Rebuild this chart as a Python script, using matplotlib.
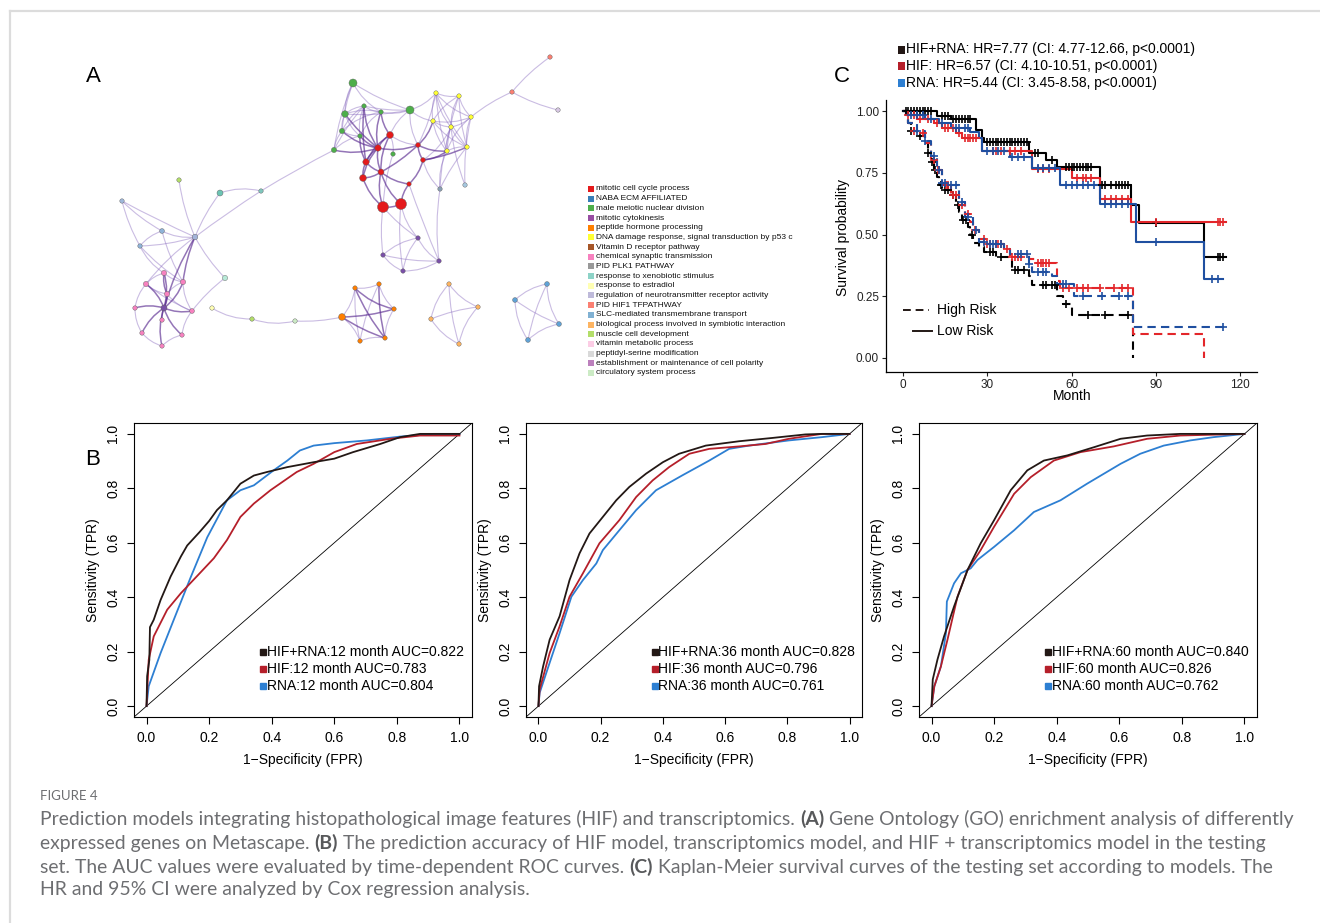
import numpy as np
import matplotlib
matplotlib.use('Agg')
import matplotlib.pyplot as plt
from matplotlib.lines import Line2D
from matplotlib.patches import FancyArrowPatch, Rectangle

# ---------------- DATA ----------------
# Panel A: network layout (layout units) -------------------------------
node_x = [550, 512, 558,
          353, 364, 381, 345, 342, 360, 334, 410, 393,
          390, 378, 366, 363, 381, 383, 401, 418, 423, 409,
          436, 459, 433, 451, 471, 467, 447, 440, 465,
          418, 383, 403, 439,
          179, 220, 261, 122, 162, 140, 195, 225,
          164, 146, 183, 167, 135, 164, 192, 162, 142, 182, 162,
          212, 252, 295, 342,
          355, 379, 394, 385, 360,
          449, 478, 431, 459,
          547, 515, 559, 528]
node_y = [57, 92, 110,
          83, 106, 112, 114, 131, 136, 150, 110, 154,
          135, 148, 162, 178, 172, 207, 204, 145, 160, 184,
          93, 96, 121, 127, 117, 147, 151, 189, 185,
          238, 255, 271, 261,
          180, 193, 191, 201, 231, 246, 237, 278,
          273, 284, 282, 294, 308, 308, 311, 320, 333, 335, 346,
          308, 319, 321, 317,
          288, 284, 309, 338, 341,
          284, 307, 319, 344,
          284, 300, 324, 340]
node_color = (['#fb8072', '#fb8072', '#d8c8e4'] +
              ['#4daf4a'] * 9 +
              ['#e41a1c'] * 10 +
              ['#ffff33'] * 7 + ['#8aa0b4', '#a6c8e0'] +
              ['#7a4fa8'] * 4 +
              ['#b3de69', '#6cc4b4', '#7fc7bd', '#9fb8dc', '#8fb3d9', '#8fb3d9', '#a3b3d9', '#b8ead8'] +
              ['#f781bf'] * 5 + ['#7a4fa8'] + ['#f781bf'] * 5 +
              ['#ffffb3', '#b3de69', '#ccebc5', '#ff7f00'] +
              ['#ff7f00'] * 5 +
              ['#fdb462'] * 4 +
              ['#5fa2d6'] * 4)
node_r = ([2.2, 2.2, 2.2] +
          [4.0, 2.2, 2.2, 3.3, 2.6, 2.2, 2.6, 4.0, 2.2] +
          [3.4, 3.2, 3.2, 3.4, 3.0, 5.5, 5.5, 2.4, 2.4, 2.2] +
          [2.2] * 7 + [2.2, 2.2] +
          [2.2] * 4 +
          [2.2, 3.0, 2.2, 2.2, 2.4, 2.2, 2.8, 2.6] +
          [2.6, 2.6, 2.6, 2.6, 2.2, 3.0, 2.4, 2.2, 2.2, 2.2, 2.2] +
          [2.2, 2.2, 2.2, 3.4] +
          [2.2] * 5 +
          [2.2] * 4 +
          [2.4] * 4)
weak_edges = [(0, 1), (1, 2), (1, 26),
              (3, 10), (3, 5), (3, 6), (3, 7), (3, 9), (4, 10), (5, 10), (6, 10), (10, 22), (10, 24), (10, 19), (10, 12),
              (4, 5), (4, 6), (4, 7), (4, 8), (5, 6), (5, 7), (6, 7), (6, 8), (7, 8), (7, 9), (8, 9), (5, 8), (4, 9),
              (22, 23), (22, 24), (22, 25), (22, 26), (22, 27), (22, 28), (23, 24), (23, 25), (23, 26), (23, 27),
              (23, 28), (24, 25), (24, 26), (24, 27), (24, 28), (25, 26), (25, 27), (25, 28), (26, 27), (26, 28),
              (27, 28), (28, 29), (27, 29), (25, 29), (25, 30), (26, 30), (20, 29),
              (11, 17), (11, 12), (12, 19), (19, 22), (20, 25),
              (17, 31), (17, 32), (18, 31), (18, 33), (29, 34), (21, 34),
              (31, 32), (31, 33), (31, 34), (32, 33), (32, 34), (33, 34),
              (9, 37), (37, 36), (36, 41), (37, 41), (35, 41), (38, 39), (38, 41), (39, 40), (39, 41), (40, 41),
              (41, 42), (42, 49), (38, 40), (40, 43), (39, 45), (40, 45), (41, 44), (43, 45), (43, 44), (44, 46),
              (45, 46), (44, 47), (47, 51), (51, 53), (52, 53), (49, 52), (45, 49), (46, 49), (44, 49),
              (54, 55), (55, 56), (56, 57),
              (57, 58), (58, 59), (59, 60), (60, 61), (61, 62), (62, 57), (58, 62), (59, 62),
              (63, 64), (63, 65), (63, 66), (64, 65), (64, 66), (65, 66),
              (67, 68), (67, 69), (67, 70), (68, 69), (68, 70), (69, 70)]
strong_edges = [(6, 13), (7, 13), (8, 13), (9, 13), (4, 13), (5, 13), (4, 14), (8, 14), (5, 12),
                (12, 13), (12, 14), (13, 14), (13, 15), (13, 16), (14, 15), (15, 16), (12, 16), (16, 21), (14, 16),
                (15, 17), (16, 17), (16, 18), (17, 18), (21, 18), (16, 19), (19, 20), (19, 28), (20, 28), (21, 20),
                (13, 19), (19, 24), (20, 27),
                (48, 43), (48, 44), (48, 45), (48, 46), (48, 47), (48, 49), (48, 50), (48, 51), (48, 52), (48, 53),
                (41, 48), (41, 45), (43, 46),
                (57, 60), (57, 61), (58, 61), (59, 61), (58, 60)]
go_terms = ["mitotic cell cycle process", "NABA ECM AFFILIATED", "male meiotic nuclear division",
            "mitotic cytokinesis", "peptide hormone processing",
            "DNA damage response, signal transduction by p53 c", "Vitamin D receptor pathway",
            "chemical synaptic transmission", "PID PLK1 PATHWAY", "response to xenobiotic stimulus",
            "response to estradiol", "regulation of neurotransmitter receptor activity", "PID HIF1 TFPATHWAY",
            "SLC-mediated transmembrane transport", "biological process involved in symbiotic interaction",
            "muscle cell development", "vitamin metabolic process", "peptidyl-serine modification",
            "establishment or maintenance of cell polarity", "circulatory system process"]
go_colors = ['#e41a1c', '#377eb8', '#4daf4a', '#984ea3', '#ff7f00', '#ffff33', '#a65628', '#f781bf',
             '#999999', '#8dd3c7', '#ffffb3', '#bebada', '#fb8072', '#80b1d3', '#fdb462', '#b3de69',
             '#fccde5', '#d9d9d9', '#bc80bd', '#ccebc5']

# Panel B: ROC curves ---------------------------------------------------
roc_months = [12, 36, 60]
roc_auc = {'HIF+RNA': [0.822, 0.828, 0.840], 'HIF': [0.783, 0.796, 0.826], 'RNA': [0.804, 0.761, 0.762]}
roc_fpr = {
    12: {'HIF+RNA': [0, 0.002, 0.009, 0.011, 0.023, 0.045, 0.077, 0.11, 0.13, 0.17, 0.2, 0.225, 0.257, 0.3, 0.343,
                     0.385, 0.45, 0.534, 0.6, 0.66, 0.747, 0.81, 0.874, 1.0],
         'HIF': [0, 0.007, 0.023, 0.066, 0.11, 0.17, 0.215, 0.257, 0.3, 0.343, 0.396, 0.48, 0.534, 0.6, 0.672,
                 0.78, 0.874, 1.0],
         'RNA': [0, 0.007, 0.045, 0.087, 0.14, 0.194, 0.257, 0.3, 0.343, 0.406, 0.45, 0.49, 0.534, 0.6, 0.704,
                 0.81, 0.917, 1.0]},
    36: {'HIF+RNA': [0, 0.002, 0.015, 0.036, 0.068, 0.1, 0.132, 0.164, 0.207, 0.25, 0.292, 0.346, 0.4, 0.452,
                     0.538, 0.645, 0.751, 0.858, 0.911, 1.0],
         'HIF': [0, 0.004, 0.036, 0.068, 0.1, 0.143, 0.196, 0.26, 0.314, 0.367, 0.42, 0.485, 0.549, 0.645, 0.73,
                 0.805, 0.911, 1.0],
         'RNA': [0, 0.004, 0.036, 0.068, 0.106, 0.143, 0.186, 0.207, 0.26, 0.314, 0.378, 0.463, 0.549, 0.613,
                 0.677, 0.805, 0.911, 1.0]},
    60: {'HIF+RNA': [0, 0.004, 0.019, 0.04, 0.072, 0.115, 0.157, 0.2, 0.253, 0.306, 0.359, 0.434, 0.519, 0.604,
                     0.689, 0.795, 1.0],
         'HIF': [0, 0.009, 0.03, 0.051, 0.083, 0.115, 0.157, 0.2, 0.264, 0.317, 0.391, 0.476, 0.582, 0.689, 0.795,
                 1.0],
         'RNA': [0, 0.009, 0.03, 0.046, 0.049, 0.072, 0.094, 0.125, 0.147, 0.2, 0.264, 0.327, 0.412, 0.497, 0.604,
                 0.667, 0.742, 0.827, 0.901, 1.0]}}
roc_tpr = {
    12: {'HIF+RNA': [0, 0.11, 0.17, 0.29, 0.317, 0.39, 0.476, 0.55, 0.59, 0.64, 0.68, 0.72, 0.756, 0.817, 0.847,
                     0.86, 0.878, 0.896, 0.909, 0.933, 0.963, 0.988, 1.0, 1.0],
         'HIF': [0, 0.17, 0.256, 0.354, 0.415, 0.488, 0.543, 0.61, 0.695, 0.744, 0.793, 0.86, 0.89, 0.933, 0.963,
                 0.982, 0.994, 0.994],
         'RNA': [0, 0.073, 0.195, 0.317, 0.47, 0.62, 0.756, 0.793, 0.811, 0.866, 0.902, 0.939, 0.957, 0.966, 0.976,
                 0.99, 1.0, 1.0]},
    36: {'HIF+RNA': [0, 0.073, 0.146, 0.244, 0.33, 0.463, 0.561, 0.634, 0.695, 0.756, 0.805, 0.854, 0.896, 0.927,
                     0.957, 0.973, 0.985, 0.998, 1.0, 1.0],
         'HIF': [0, 0.061, 0.195, 0.293, 0.402, 0.488, 0.598, 0.683, 0.768, 0.829, 0.878, 0.927, 0.945, 0.954, 0.963,
                 0.982, 1.0, 1.0],
         'RNA': [0, 0.049, 0.159, 0.268, 0.402, 0.463, 0.524, 0.573, 0.646, 0.72, 0.793, 0.848, 0.902, 0.945, 0.957,
                 0.976, 0.988, 1.0]},
    60: {'HIF+RNA': [0, 0.098, 0.171, 0.256, 0.366, 0.5, 0.598, 0.683, 0.793, 0.866, 0.902, 0.921, 0.951, 0.982,
                     0.994, 1.0, 1.0],
         'HIF': [0, 0.073, 0.146, 0.244, 0.402, 0.5, 0.573, 0.659, 0.78, 0.841, 0.902, 0.933, 0.954, 0.982, 0.994,
                 1.0],
         'RNA': [0, 0.073, 0.146, 0.268, 0.384, 0.451, 0.488, 0.506, 0.537, 0.585, 0.646, 0.713, 0.756, 0.817, 0.89,
                 0.927, 0.957, 0.976, 0.988, 1.0]}}
roc_ticks = [0.0, 0.2, 0.4, 0.6, 0.8, 1.0]
roc_ticklabels = ['0.0', '0.2', '0.4', '0.6', '0.8', '1.0']

# Panel C: Kaplan-Meier ---------------------------------------------------
km_low_t = {'HIF+RNA': [0, 12, 17, 26, 28, 29, 45, 51, 55, 70, 81, 84, 107, 115],
            'HIF': [0, 1, 5, 11, 14, 19, 21, 28, 46, 60, 70, 81, 115],
            'RNA': [0, 1, 8, 13, 17, 24, 27, 28, 38, 46, 56, 70, 83, 107, 114]}
km_low_s = {'HIF+RNA': [1.0, 0.98, 0.968, 0.925, 0.89, 0.875, 0.83, 0.80, 0.775, 0.70, 0.62, 0.545, 0.41, 0.41],
            'HIF': [1.0, 0.985, 0.97, 0.95, 0.93, 0.91, 0.89, 0.84, 0.765, 0.73, 0.645, 0.55, 0.55],
            'RNA': [1.0, 0.985, 0.97, 0.95, 0.93, 0.915, 0.89, 0.84, 0.815, 0.77, 0.70, 0.625, 0.47, 0.32, 0.32]}
km_high_t = {'HIF+RNA': [0, 2, 3, 5, 8, 9, 10, 11, 12, 13, 14, 17, 19, 20, 21, 23, 24, 25, 27, 29, 33, 39, 45, 46,
                         55, 57, 60, 82],
             'HIF': [0, 2, 4, 6, 8, 10, 12, 14, 15, 17, 20, 22, 24, 25, 27, 30, 36, 38, 45, 47, 55, 56, 82, 107],
             'RNA': [0, 2, 5, 8, 10, 12, 14, 16, 20, 22, 25, 27, 30, 36, 38, 45, 46, 53, 55, 61, 82, 115]}
km_high_s = {'HIF+RNA': [1.0, 0.95, 0.92, 0.90, 0.87, 0.83, 0.795, 0.76, 0.735, 0.70, 0.68, 0.66, 0.62, 0.59, 0.56,
                         0.53, 0.50, 0.465, 0.45, 0.43, 0.41, 0.355, 0.33, 0.295, 0.25, 0.22, 0.175, 0.0],
             'HIF': [1.0, 0.95, 0.92, 0.91, 0.87, 0.80, 0.76, 0.71, 0.70, 0.66, 0.62, 0.585, 0.55, 0.52, 0.48, 0.46,
                     0.44, 0.41, 0.40, 0.385, 0.31, 0.285, 0.095, 0.0],
             'RNA': [1.0, 0.95, 0.92, 0.88, 0.82, 0.76, 0.71, 0.70, 0.63, 0.57, 0.52, 0.47, 0.46, 0.44, 0.42, 0.38,
                     0.35, 0.33, 0.30, 0.25, 0.125, 0.125]}
km_low_cens = {'HIF+RNA': [1, 2, 3, 4, 5, 6, 7, 8, 9, 10, 14, 15, 16, 18, 19, 20, 21, 22, 23, 24, 30, 31, 32, 33, 34,
                           35, 36, 37, 38, 39, 40, 41, 42, 43, 44, 47, 48, 53, 58, 59, 60, 61, 62, 63, 64, 65, 66,
                           67, 71, 72, 74, 76, 77, 78, 79, 80, 90, 112, 113, 114],
               'HIF': [2, 4, 6, 9, 12, 15, 16, 18, 20, 22, 23, 24, 25, 26, 32, 33, 35, 38, 40, 42, 48, 50, 52, 62,
                       64, 65, 67, 72, 74, 76, 78, 80, 90, 112, 113, 114],
               'RNA': [3, 5, 7, 10, 14, 19, 20, 22, 23, 30, 32, 34, 36, 39, 41, 43, 48, 50, 52, 54, 58, 60, 62, 64,
                       66, 68, 72, 74, 76, 78, 80, 90, 110, 112]}
km_high_cens = {'HIF+RNA': [3, 6, 9, 10.5, 11.5, 13.5, 15, 16, 18, 19.5, 21.5, 22.5, 24.5, 31, 32, 35, 40, 41, 43,
                            50, 51, 53, 54, 58, 66, 72, 80],
                'HIF': [4, 7, 11, 12.5, 13, 15.5, 16, 18, 19, 21, 23, 25.5, 29, 30, 31, 33, 34, 35, 37, 39, 40,
                        41, 42, 48, 49, 50, 51, 52, 57, 59, 62, 64, 66, 70, 75, 78, 80],
                'RNA': [5, 8, 11, 13, 14, 15, 17, 19, 21, 23, 26, 29, 31, 32, 33, 35, 41, 42, 44, 45, 48, 50, 51,
                        57, 58, 64, 71, 77, 80, 114]}
km_hr_text = {'HIF+RNA': "HIF+RNA: HR=7.77 (CI: 4.77-12.66, p<0.0001)",
              'HIF': "HIF: HR=6.57 (CI: 4.10-10.51, p<0.0001)",
              'RNA': "RNA: HR=5.44 (CI: 3.45-8.58, p<0.0001)"}
km_xticks = [0, 30, 60, 90, 120]
km_yticks = [0.0, 0.25, 0.50, 0.75, 1.00]
km_yticklabels = ['0.00', '0.25', '0.50', '0.75', '1.00']

models = ['HIF+RNA', 'HIF', 'RNA']
roc_colors = {'HIF+RNA': '#231815', 'HIF': '#b51f2a', 'RNA': '#2d7fd2'}
km_colors = {'HIF+RNA': '#000000', 'HIF': '#e3262a', 'RNA': '#1f4fa0'}

caption_title = "FIGURE 4"
caption_lines = [
    [("Prediction models integrating histopathological image features (HIF) and transcriptomics.", False),
     ("(A)", True), ("Gene Ontology (GO) enrichment analysis of differently", False)],
    [("expressed genes on Metascape.", False), ("(B)", True),
     ("The prediction accuracy of HIF model, transcriptomics model, and HIF + transcriptomics model in the testing",
      False)],
    [("set. The AUC values were evaluated by time-dependent ROC curves.", False), ("(C)", True),
     ("Kaplan-Meier survival curves of the testing set according to models. The", False)],
    [("HR and 95% CI were analyzed by Cox regression analysis.", False)],
]

# ---------------- FIGURE ----------------
W, H = 1320, 923
plt.rcParams['font.family'] = ['Liberation Sans', 'DejaVu Sans']
fig = plt.figure(figsize=(W / 100, H / 100), dpi=100)
fig.patch.set_facecolor('white')


def fx(x):
    return x / W


def fy(y):
    return 1 - y / H


def px_axes(x0, y0, x1, y1):
    return fig.add_axes([x0 / W, 1 - y1 / H, (x1 - x0) / W, (y1 - y0) / H])


# frame
fig.add_artist(Line2D([fx(10), 1.0], [fy(11), fy(11)], color='#dcdcdc', lw=1.6, transform=fig.transFigure))
fig.add_artist(Line2D([fx(10), fx(10)], [fy(11), 0.0], color='#dcdcdc', lw=1.6, transform=fig.transFigure))

# panel labels
for lab, (x, y) in zip(['A', 'B', 'C'], [(93, 76), (93, 460), (842, 76)]):
    fig.text(fx(x), fy(y), lab, fontsize=16, ha='center', va='center')

# ---------- Panel A ----------
axa = px_axes(85, 45, 810, 380)
axa.set_xlim(85, 810)
axa.set_ylim(380, 45)
axa.axis('off')
for edges, col, alpha, lw in [(weak_edges, '#8a6cc0', 0.45, 0.8), (strong_edges, '#5b2c91', 0.65, 1.1)]:
    for i, j in edges:
        d = np.hypot(node_x[i] - node_x[j], node_y[i] - node_y[j])
        rad = 0.15 if d < 45 else (0.07 if d < 80 else 0.02)
        p = FancyArrowPatch((node_x[i], node_y[i]), (node_x[j], node_y[j]),
                            connectionstyle=f"arc3,rad={rad}", arrowstyle='-', color=col,
                            alpha=alpha, lw=lw, shrinkA=0, shrinkB=0, zorder=1)
        axa.add_patch(p)
sizes = [(2 * r * 0.72) ** 2 for r in node_r]
axa.scatter(node_x, node_y, s=sizes, c=node_color, edgecolors='#606060', linewidths=0.3, zorder=3)
for k, (term, col) in enumerate(zip(go_terms, go_colors)):
    yy = 189 + k * 9.68
    axa.add_patch(Rectangle((588, yy - 3), 6, 6, facecolor=col, edgecolor='none'))
    axa.text(596, yy, term, fontsize=6, va='center', ha='left', color='#111111')

# ---------- Panel B ----------
roc_boxes = [(134, 423, 472, 717), (526, 423, 862, 717), (919, 423, 1257, 717)]
for k, m in enumerate(roc_months):
    ax = px_axes(*roc_boxes[k])
    ax.set_xlim(-0.04, 1.04)
    ax.set_ylim(-0.04, 1.04)
    ax.axline((0, 0), (1, 1), color='black', lw=0.6, zorder=1)
    for mod in ['RNA', 'HIF', 'HIF+RNA']:
        ax.plot(roc_fpr[m][mod], roc_tpr[m][mod], color=roc_colors[mod], lw=1.3, zorder=2)
    ax.set_xticks(roc_ticks)
    ax.set_xticklabels(roc_ticklabels)
    ax.set_yticks(roc_ticks)
    ax.set_yticklabels(roc_ticklabels, rotation=90, va='center')
    ax.tick_params(direction='out', length=5, width=0.8, pad=5, labelsize=10)
    for sp in ax.spines.values():
        sp.set_linewidth(0.8)
    ax.text(0.5, -0.146, "1\u2212Specificity (FPR)", transform=ax.transAxes, ha='center', va='center', fontsize=10)
    ax.text(-0.121, 0.5, "Sensitivity (TPR)", transform=ax.transAxes, ha='center', va='center',
            rotation=90, fontsize=10)
    for i, mod in enumerate(models):
        yy = [0.221, 0.164, 0.107][i]
        ax.plot([0.383], [yy], marker='s', ms=5, color=roc_colors[mod], transform=ax.transAxes, clip_on=False)
        ax.text(0.394, yy, f"{mod}:{m} month AUC={roc_auc[mod][k]:.3f}", transform=ax.transAxes,
                ha='left', va='center', fontsize=10)

# ---------- Panel C ----------
axk = px_axes(886, 100, 1257, 372)
axk.set_xlim(-6, 126)
axk.set_ylim(-0.057, 1.045)
for mod in models:
    col = km_colors[mod]
    t = np.array(km_high_t[mod]); s = np.array(km_high_s[mod])
    axk.step(t, s, where='post', color=col, lw=1.5, ls=(0, (4, 2.5)), zorder=2)
    tc = np.array(km_high_cens[mod])
    sc = s[np.searchsorted(t, tc, side='right') - 1]
    axk.plot(tc, sc, '+', color=col, ms=6, mew=1.2, zorder=3)
    t = np.array(km_low_t[mod]); s = np.array(km_low_s[mod])
    axk.step(t, s, where='post', color=col, lw=1.5, zorder=2)
    tc = np.array(km_low_cens[mod])
    sc = s[np.searchsorted(t, tc, side='right') - 1]
    axk.plot(tc, sc, '+', color=col, ms=6, mew=1.2, zorder=3)
axk.spines['top'].set_visible(False)
axk.spines['right'].set_visible(False)
for sp in ['left', 'bottom']:
    axk.spines[sp].set_linewidth(0.9)
axk.set_xticks(km_xticks)
axk.set_yticks(km_yticks)
axk.set_yticklabels(km_yticklabels)
axk.tick_params(direction='out', length=3, width=0.8, pad=2, labelsize=8.5, colors='#222222')
axk.text(fx(843), fy(238), "Survival probability", transform=fig.transFigure, rotation=90,
         ha='center', va='center', fontsize=10)
axk.text(fx(1072), fy(396), "Month", transform=fig.transFigure, ha='center', va='center', fontsize=10)
# top legend
for i, mod in enumerate(models):
    yc = [49.5, 66.2, 82.6][i]
    fig.add_artist(Rectangle((fx(898), fy(yc + 4)), 7 / W, 8 / H, facecolor=roc_colors[mod],
                             edgecolor='none', transform=fig.transFigure))
    fig.text(fx(906), fy(yc), km_hr_text[mod], ha='left', va='center', fontsize=10)
# risk legend
fig.add_artist(Line2D([fx(903), fx(929)], [fy(310.5)] * 2, color='#231815', lw=1.4, ls=(0, (4, 2.5)),
                      transform=fig.transFigure))
fig.add_artist(Line2D([fx(913), fx(932)], [fy(330.5)] * 2, color='#231815', lw=1.4, transform=fig.transFigure))
fig.text(fx(937), fy(310.5), "High Risk", ha='left', va='center', fontsize=10)
fig.text(fx(937), fy(330.5), "Low Risk", ha='left', va='center', fontsize=10)

# ---------- Caption ----------
cap_font = ['Lato', 'DejaVu Sans']
cap_color = '#6d6e71'
fig.text(fx(40), fy(796), caption_title, fontsize=9.5, family=cap_font, color=cap_color, ha='left',
         va='center')
fig.canvas.draw()
renderer = fig.canvas.get_renderer()


def text_w(s, size, bold):
    t = fig.text(0, 0, s, fontsize=size, family=cap_font, fontweight='bold' if bold else 'normal')
    w = t.get_window_extent(renderer).width
    t.remove()
    return w


def line_w(segs, size):
    sp = text_w("a a", size, False) - text_w("aa", size, False)
    return sum(text_w(s, size, b) for s, b in segs) + sp * (len(segs) - 1)


base = 10.0
cap_size = base * 1249.0 / line_w(caption_lines[0], base)
space_w = text_w("a a", cap_size, False) - text_w("aa", cap_size, False)
for li, segs in enumerate(caption_lines):
    x = 40.0
    y = [819, 843, 867, 890][li]
    for s, b in segs:
        fig.text(fx(x), fy(y), s, fontsize=cap_size, family=cap_font, ha='left', va='center',
                 fontweight='bold' if b else 'normal', color='#58595b' if b else cap_color)
        x += text_w(s, cap_size, b) + space_w

fig.savefig('out.png', dpi=100, facecolor='white')
